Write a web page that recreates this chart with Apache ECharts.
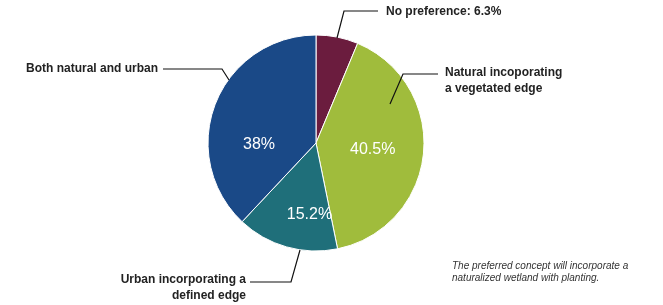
<!DOCTYPE html>
<html>
<head>
<meta charset="utf-8">
<script src="https://cdn.jsdelivr.net/npm/echarts@6/dist/echarts.min.js"></script>
<style>
  html, body { margin: 0; padding: 0; background: #fff; }
  #chart { width: 663px; height: 305px; }
</style>
</head>
<body>
<div id="chart"></div>
<script>
// slices, clockwise from 12 o'clock
const categories = [
  "No preference",
  "Natural incoporating\na vegetated edge",
  "Urban incorporating a\ndefined edge",
  "Both natural and urban"
];
const shares = [6.3, 40.5, 15.2, 38];
const insideText = ["", "40.5%", "15.2%", "38%"];
const outsideText = [
  "No preference: 6.3%",
  "Natural incoporating\na vegetated edge",
  "Urban incorporating a\ndefined edge",
  "Both natural and urban"
];
const colors = ["#6b1c3e", "#a0bc3c", "#1f6f7a", "#1a4987"];
const note = "The preferred concept will incorporate a\nnaturalized wetland with planting.";

const center = [316, 143];
const radius = 108;

// where the callouts go (label anchor + leader line)
const callouts = [
  { x: 386, y: 12, align: "left", pts: [[337, 38], [344, 11], [378, 11]] },
  { x: 445, y: 81, align: "left", pts: [[390, 104], [403, 74], [438, 74]] },
  { x: 246, y: 288, align: "right", pts: [[300, 250], [291, 282], [250, 282]] },
  { x: 158, y: 69, align: "right", pts: [[229, 80], [222, 69], [163, 69]] }
];
const insideShift = [[0, 0], [0, 1], [9, 17], [-4, 23]];

const basePie = {
  type: "pie",
  center: center,
  radius: radius,
  startAngle: 90,
  clockwise: true,
  silent: true
};

const ghostData = categories.map((c, i) => ({
  name: c,
  value: shares[i],
  itemStyle: { color: "transparent" }
}));

const chart = echarts.init(document.getElementById("chart"));

chart.setOption({
  animation: false,
  title: {
    text: note,
    left: 447,
    top: 255,
    textStyle: {
      fontFamily: "Liberation Sans",
      fontSize: 10,
      fontStyle: "italic",
      fontWeight: "normal",
      color: "#333",
      lineHeight: 12
    }
  },
  series: [
    Object.assign({}, basePie, {
      z: 1,
      data: categories.map((c, i) => ({
        name: c,
        value: shares[i],
        itemStyle: { color: colors[i] }
      })),
      itemStyle: { borderColor: "#fff", borderWidth: 1 },
      label: { show: false },
      labelLine: { show: false }
    }),
    Object.assign({}, basePie, {
      z: 3,
      data: ghostData,
      label: {
        show: true,
        position: "inside",
        formatter: p => insideText[p.dataIndex],
        fontFamily: "Liberation Sans",
        fontSize: 16,
        color: "#fff"
      },
      labelLine: { show: false },
      labelLayout: function (params) {
        const s = insideShift[params.dataIndex];
        return { dx: s[0], dy: s[1] };
      }
    }),
    Object.assign({}, basePie, {
      z: 5,
      data: ghostData,
      label: {
        show: true,
        position: "outside",
        formatter: p => outsideText[p.dataIndex],
        fontFamily: "Liberation Sans",
        fontSize: 12,
        fontWeight: "bold",
        color: "#222",
        lineHeight: 16
      },
      labelLine: {
        show: true,
        lineStyle: { color: "#111", width: 1.2 }
      },
      labelLayout: function (params) {
        const c = callouts[params.dataIndex];
        return {
          x: c.x,
          y: c.y,
          align: c.align,
          verticalAlign: "middle",
          labelLinePoints: c.pts
        };
      }
    })
  ]
});
</script>
</body>
</html>
